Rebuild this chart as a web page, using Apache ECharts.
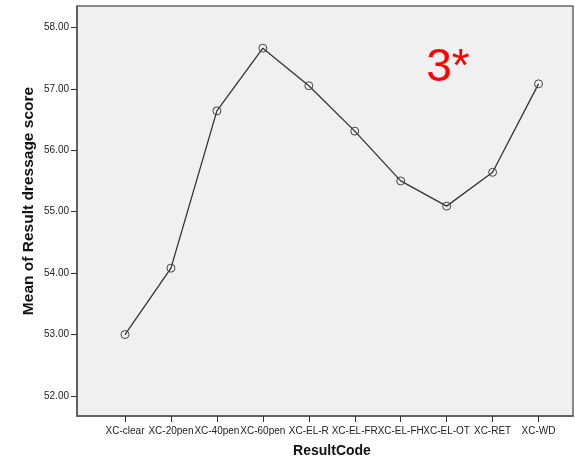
<!DOCTYPE html>
<html>
<head>
<meta charset="utf-8">
<script src="https://cdn.jsdelivr.net/npm/echarts@6/dist/echarts.min.js"></script>
<style>html,body{margin:0;padding:0;background:#fff;}#c{width:575px;height:461px;}</style>
</head>
<body>
<div id="c"></div>
<script>
var categories = ['XC-clear','XC-20pen','XC-40pen','XC-60pen','XC-EL-R','XC-EL-FR','XC-EL-FH','XC-EL-OT','XC-RET','XC-WD'];
var meanScores = [53.00, 54.08, 56.64, 57.66, 57.05, 56.31, 55.50, 55.09, 55.64, 57.08];
var yTicks = [52, 53, 54, 55, 56, 57, 58];
var xTicks = [0,1,2,3,4,5,6,7,8,9];

var chart = echarts.init(document.getElementById('c'), null, {renderer: 'canvas'});
var font = 'Arial, "Liberation Sans", sans-serif';
chart.setOption({
  animation: false,
  grid: {left: 77, top: 6, right: 2, bottom: 45, show: true, backgroundColor: '#f0f0f0', borderColor: '#666', borderWidth: 1.5},
  xAxis: {
    type: 'value', min: -1.045, max: 9.75,
    axisLine: {show: true, onZero: false, lineStyle: {color: '#555', width: 1.5}},
    axisTick: {show: true, customValues: xTicks, length: 6, lineStyle: {color: '#333'}},
    axisLabel: {customValues: xTicks, formatter: function(v){ return categories[Math.round(v)]; }, color: '#222', fontSize: 10, fontFamily: font, margin: 10, hideOverlap: false},
    splitLine: {show: false}
  },
  yAxis: {
    type: 'value', min: 51.674, max: 58.347,
    axisLine: {show: true, onZero: false, lineStyle: {color: '#555', width: 1.5}},
    axisTick: {show: true, customValues: yTicks, length: 6, lineStyle: {color: '#333'}},
    axisLabel: {customValues: yTicks, formatter: function(v){ return v.toFixed(2); }, color: '#222', fontSize: 10, fontFamily: font, margin: 8},
    splitLine: {show: false}
  },
  graphic: [
    {type: 'text', x: 332, y: 451, style: {text: 'ResultCode', font: 'bold 14px ' + font, fill: '#111', textAlign: 'center', textVerticalAlign: 'middle'}},
    {type: 'text', x: 29, y: 201, rotation: Math.PI/2, style: {text: 'Mean of Result dressage score', font: 'bold 15.5px ' + font, fill: '#111', textAlign: 'center', textVerticalAlign: 'middle'}},
    {type: 'text', x: 448, y: 68, style: {text: '3*', font: '46px ' + font, fill: '#ff0000', textAlign: 'center', textVerticalAlign: 'middle'}}
  ],
  series: [{
    type: 'line',
    data: meanScores.map(function(v, i){ return [i, v]; }),
    symbol: 'circle', symbolSize: 8,
    itemStyle: {color: 'rgba(0,0,0,0)', borderColor: '#444', borderWidth: 1},
    lineStyle: {color: '#333', width: 1.3}
  }]
});
</script>
</body>
</html>
